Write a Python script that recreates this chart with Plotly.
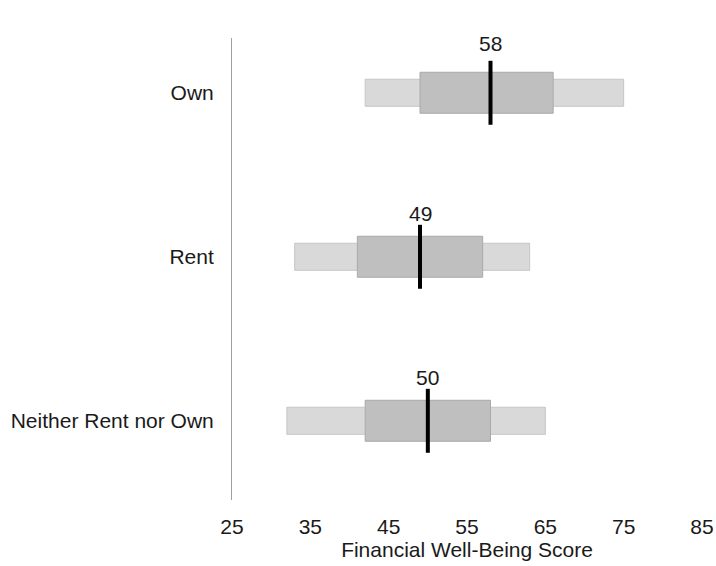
import plotly.graph_objects as go

categories = ["Own", "Rent", "Neither Rent nor Own"]
p10 = [42, 33, 32]
p25 = [49, 41, 42]
median = [58, 49, 50]
p75 = [66, 57, 58]
p90 = [75, 63, 65]
x_ticks = [25, 35, 45, 55, 65, 75, 85]

n = len(categories)
ypos = [n - 1 - i for i in range(n)]  # Own at top

FONT = dict(family="Liberation Sans, Arial, sans-serif", size=21, color="#1a1a1a")

fig = go.Figure()
fig.add_trace(go.Bar(
    y=ypos, x=[b - a for a, b in zip(p10, p90)], base=p10, orientation="h",
    width=0.165, marker=dict(color="#d9d9d9", line=dict(color="#c6c6c6", width=1)),
    showlegend=False, hoverinfo="skip"))
fig.add_trace(go.Bar(
    y=ypos, x=[b - a for a, b in zip(p25, p75)], base=p25, orientation="h",
    width=0.25, marker=dict(color="#bfbfbf", line=dict(color="#a9a9a9", width=1)),
    showlegend=False, hoverinfo="skip"))

mx, my = [], []
half = 0.195
for m, p in zip(median, ypos):
    mx += [m, m, None]
    my += [p - half, p + half, None]
fig.add_trace(go.Scatter(x=mx, y=my, mode="lines", line=dict(color="black", width=4),
                         showlegend=False, hoverinfo="skip"))

for m, p, i in zip(median, ypos, range(n)):
    fig.add_annotation(x=m, y=p + 0.262, text=str(m), showarrow=False,
                       xanchor="center", yanchor="middle", font=FONT,
                       yshift=6 if i == 0 else 0)

fig.update_layout(
    width=716, height=566,
    margin=dict(l=232, r=14, t=38, b=66),
    plot_bgcolor="white", paper_bgcolor="white",
    barmode="overlay", font=FONT,
    xaxis=dict(range=[25, 85], tickvals=x_ticks, showgrid=False, zeroline=False,
               showline=False, ticks="", ticklabelstandoff=12, automargin=False,
               title=dict(text="Financial Well-Being Score", font=FONT, standoff=4)),
    yaxis=dict(range=[-0.483, 2.334], tickvals=ypos, ticktext=categories,
               showgrid=False, zeroline=False, showline=True, linecolor="#a0a0a0",
               linewidth=1, ticks="", ticklabelstandoff=13, automargin=False),
)
fig.write_html("out.html", config={"displayModeBar": False},
               post_script="document.body.style.margin='0';")
